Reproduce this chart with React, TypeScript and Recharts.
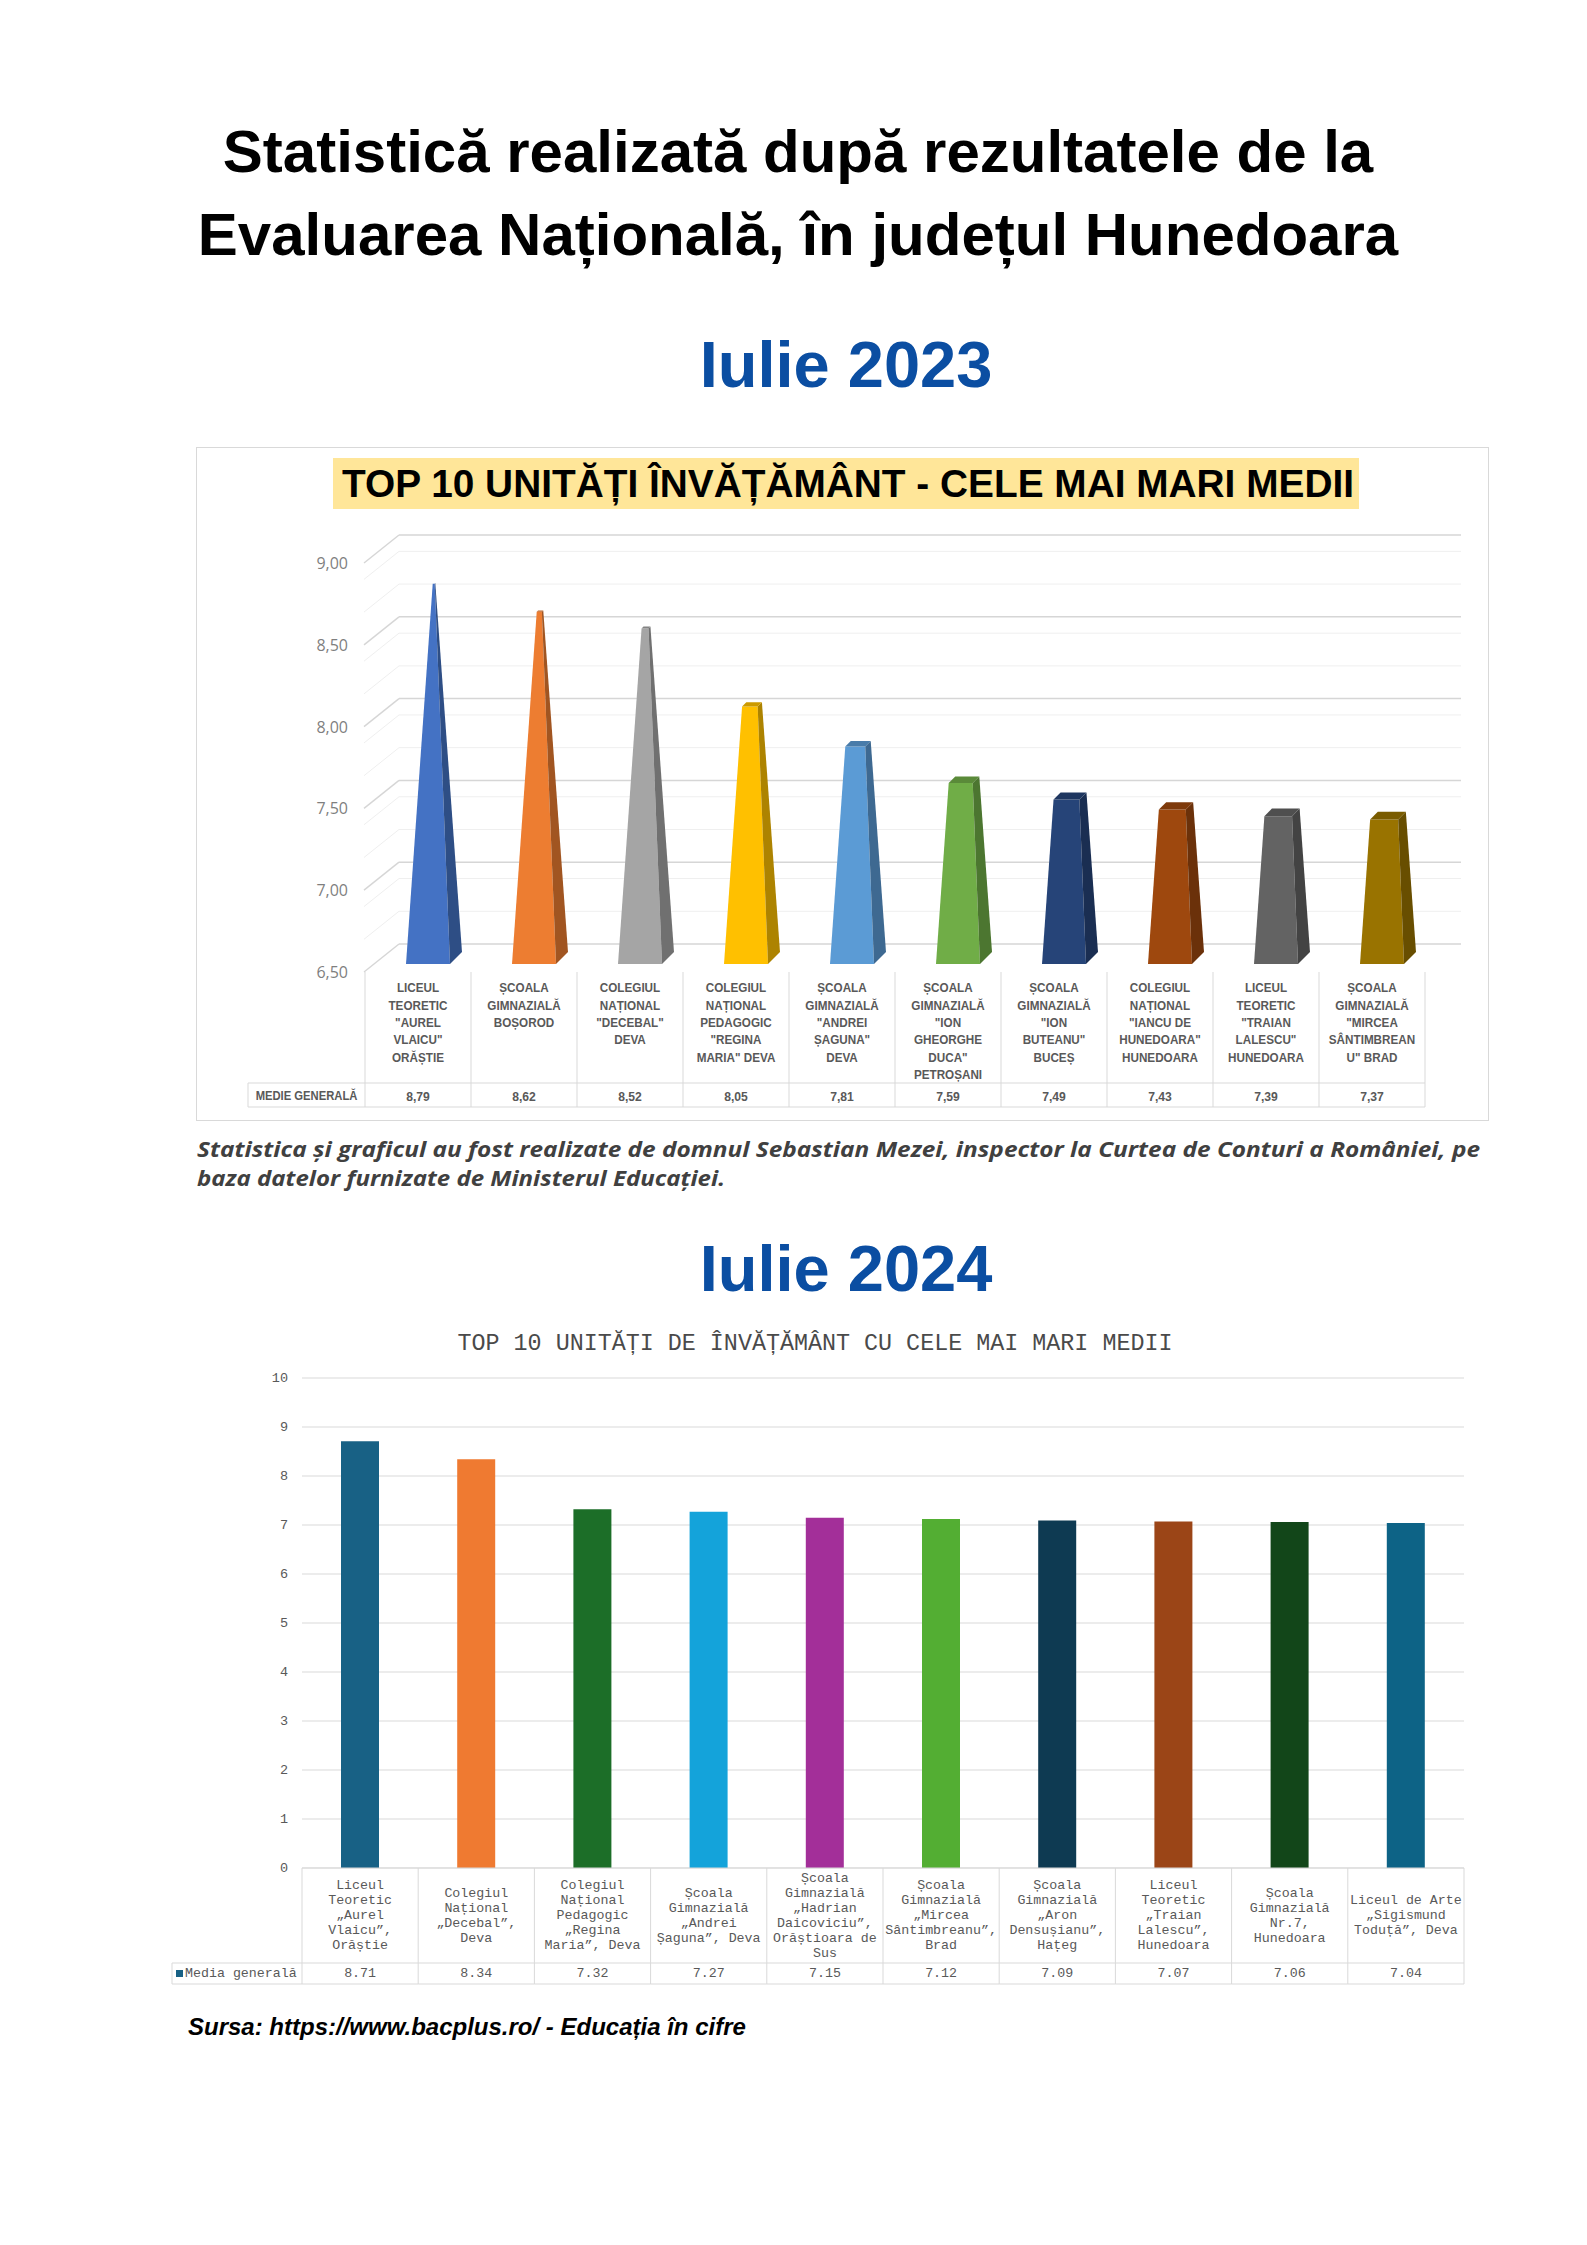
import React from 'react';
import { BarChart, Bar, XAxis, YAxis, CartesianGrid, Cell } from 'recharts';

// Iulie 2023 – top 10 (Excel 3D pyramid chart)
const schools2023 = [
  'LICEUL\nTEORETIC\n"AUREL\nVLAICU"\nORĂȘTIE',
  'ȘCOALA\nGIMNAZIALĂ\nBOȘOROD',
  'COLEGIUL\nNAȚIONAL\n"DECEBAL"\nDEVA',
  'COLEGIUL\nNAȚIONAL\nPEDAGOGIC\n"REGINA\nMARIA" DEVA',
  'ȘCOALA\nGIMNAZIALĂ\n"ANDREI\nȘAGUNA"\nDEVA',
  'ȘCOALA\nGIMNAZIALĂ\n"ION\nGHEORGHE\nDUCA"\nPETROȘANI',
  'ȘCOALA\nGIMNAZIALĂ\n"ION\nBUTEANU"\nBUCEȘ',
  'COLEGIUL\nNAȚIONAL\n"IANCU DE\nHUNEDOARA"\nHUNEDOARA',
  'LICEUL\nTEORETIC\n"TRAIAN\nLALESCU"\nHUNEDOARA',
  'ȘCOALA\nGIMNAZIALĂ\n"MIRCEA\nSÂNTIMBREAN\nU" BRAD',
];
const medii2023 = [8.79, 8.62, 8.52, 8.05, 7.81, 7.59, 7.49, 7.43, 7.39, 7.37];
const ticks2023 = [6.5, 7, 7.5, 8, 8.5, 9];
const minor2023 = [6.6, 6.7, 6.8, 6.9, 7.1, 7.2, 7.3, 7.4, 7.6, 7.7, 7.8, 7.9, 8.1, 8.2, 8.3, 8.4, 8.6, 8.7, 8.8, 8.9];

// Iulie 2024 – top 10
const schools2024 = [
  'Liceul\nTeoretic\n„Aurel\nVlaicu”,\nOrăștie',
  'Colegiul\nNațional\n„Decebal”,\nDeva',
  'Colegiul\nNațional\nPedagogic\n„Regina\nMaria”, Deva',
  'Școala\nGimnazială\n„Andrei\nȘaguna”, Deva',
  'Școala\nGimnazială\n„Hadrian\nDaicoviciu”,\nOrăștioara de\nSus',
  'Școala\nGimnazială\n„Mircea\nSântimbreanu”,\nBrad',
  'Școala\nGimnazială\n„Aron\nDensușianu”,\nHațeg',
  'Liceul\nTeoretic\n„Traian\nLalescu”,\nHunedoara',
  'Școala\nGimnazială\nNr.7,\nHunedoara',
  'Liceul de Arte\n„Sigismund\nToduță”, Deva',
];
const medii2024 = [8.71, 8.34, 7.32, 7.27, 7.15, 7.12, 7.09, 7.07, 7.06, 7.04];
const ticks2024 = [0, 1, 2, 3, 4, 5, 6, 7, 8, 9, 10];

const colors2023 = ['#4472c4', '#ed7d31', '#a5a5a5', '#ffc000', '#5b9bd5', '#70ad47', '#264478', '#9e480e', '#636363', '#997300'];
const colors2024 = ['#186185', '#ef7a31', '#1c6e28', '#14a3da', '#a32f99', '#53ae33', '#0e3a52', '#9b4517', '#124619', '#0d6386'];

const rows2023 = schools2023.map((name, i) => ({ name, value: medii2023[i] }));
const rows2024 = schools2024.map((name, i) => ({ name, value: medii2024[i] }));

const BASE = 6.5;
const APEX = 8.9; // where a full pyramid would end
const COL1 = 106;
const COL2 = 116.2;
const TABLE_LINE = '#d9d9d9';

const shade = (hex: string, f: number) => {
  const n = parseInt(hex.slice(1), 16);
  const r = Math.round(((n >> 16) & 255) * f);
  const g = Math.round(((n >> 8) & 255) * f);
  const b = Math.round((n & 255) * f);
  return `rgb(${r},${g},${b})`;
};

const pts = (list: number[][]) => list.map((p) => p.join(',')).join(' ');

// 3D pyramid truncated at the value
const Pyramid = (props: any) => {
  const { x, y, width, height, index, payload } = props;
  if (!height || height <= 0) return null;
  const color = colors2023[index];
  const pxPerUnit = height / (payload.value - BASE);
  const full = (APEX - BASE) * pxPerUnit;
  const s = Math.max(0, 1 - height / full);
  const cx = x + width / 2 + 16;
  const yb = y + height;
  const hw = width / 2;
  const d = 6;
  const FLb = [cx - hw - d, yb + d];
  const FRb = [cx + hw - d, yb + d];
  const BRb = [cx + hw + d, yb - d];
  const FLt = [cx - s * (hw + d), y + s * d];
  const FRt = [cx + s * (hw - d), y + s * d];
  const BRt = [cx + s * (hw + d), y - s * d];
  const BLt = [cx - s * (hw - d), y - s * d];
  return (
    <g>
      <polygon points={pts([FLb, FRb, FRt, FLt])} fill={color} />
      <polygon points={pts([FRb, BRb, BRt, FRt])} fill={shade(color, 0.68)} />
      {s > 0.05 && <polygon points={pts([FLt, FRt, BRt, BLt])} fill={shade(color, 0.8)} />}
    </g>
  );
};

const wallLine = (color: string, sw: number) => (p: any) => {
  const { x1, x2, y1 } = p;
  return (
    <g key={p.key}>
      <line x1={x1 - 1} y1={y1 + 14} x2={x1 + 34} y2={y1 - 14} stroke={color} strokeWidth={sw} />
      <line x1={x1 + 34} y1={y1 - 14} x2={x2 + 36} y2={y1 - 14} stroke={color} strokeWidth={sw} />
    </g>
  );
};

const Narrow = ({ x, y, children, size = 13, fill = '#595959' }: any) => (
  <text
    transform={`translate(${x},${y}) scale(0.9,1)`}
    textAnchor="middle"
    dominantBaseline="central"
    fontFamily="'Liberation Sans', Arial, sans-serif"
    fontWeight="bold"
    fontSize={size}
    fill={fill}
  >
    {children}
  </text>
);

const YTick2023 = (props: any) => {
  const { x, y, payload } = props;
  return (
    <text x={x} y={y + 14} textAnchor="end" dominantBaseline="central" fontFamily="'Open Sans', sans-serif" fontSize={16} fill="#7f7f7f">
      {payload.value.toFixed(2).replace('.', ',')}
    </text>
  );
};

const XTick2023 = (props: any) => {
  const { x, y, payload, index } = props;
  const lines = String(payload.value).split('\n');
  const l = x - COL1 / 2;
  const r = x + COL1 / 2;
  return (
    <g>
      {index === 0 && (
        <g>
          <line x1={l - 117} y1={y + 125} x2={l} y2={y + 125} stroke={TABLE_LINE} />
          <line x1={l - 117} y1={y + 149} x2={l} y2={y + 149} stroke={TABLE_LINE} />
          <line x1={l - 117} y1={y + 125} x2={l - 117} y2={y + 149} stroke={TABLE_LINE} />
          <Narrow x={l - 58.5} y={y + 138} size={12.5}>MEDIE GENERALĂ</Narrow>
        </g>
      )}
      <line x1={l} y1={y + 14} x2={l} y2={y + 149} stroke={TABLE_LINE} />
      {index === schools2023.length - 1 && <line x1={r} y1={y + 14} x2={r} y2={y + 149} stroke={TABLE_LINE} />}
      <line x1={l} y1={y + 125} x2={r} y2={y + 125} stroke={TABLE_LINE} />
      <line x1={l} y1={y + 149} x2={r} y2={y + 149} stroke={TABLE_LINE} />
      {lines.map((t, i) => (
        <Narrow key={i} x={x} y={y + 30 + i * 17.4}>
          {t}
        </Narrow>
      ))}
      <Narrow x={x} y={y + 138} size={13.5}>
        {medii2023[index].toFixed(2).replace('.', ',')}
      </Narrow>
    </g>
  );
};

const MONO = "'Liberation Mono', 'DejaVu Sans Mono', monospace";

const YTick2024 = (props: any) => {
  const { x, y, payload } = props;
  return (
    <text x={x} y={y} textAnchor="end" dominantBaseline="central" fontFamily={MONO} fontSize={13.5} fill="#595959">
      {payload.value}
    </text>
  );
};

const XTick2024 = (props: any) => {
  const { x, y, payload, index } = props;
  const lines = String(payload.value).split('\n');
  const l = x - COL2 / 2;
  const r = x + COL2 / 2;
  const start = y + 47.5 - ((lines.length - 1) * 15) / 2;
  return (
    <g>
      {index === 0 && (
        <g>
          <line x1={12} y1={y + 95} x2={l} y2={y + 95} stroke={TABLE_LINE} />
          <line x1={12} y1={y + 116} x2={l} y2={y + 116} stroke={TABLE_LINE} />
          <line x1={12} y1={y + 95} x2={12} y2={y + 116} stroke={TABLE_LINE} />
          <rect x={16} y={y + 102} width={7} height={7} fill={colors2024[0]} />
          <text x={25} y={y + 105.5} dominantBaseline="central" fontFamily={MONO} fontSize={13.3} fill="#595959">
            Media generală
          </text>
        </g>
      )}
      <line x1={l} y1={y} x2={l} y2={y + 116} stroke={TABLE_LINE} />
      {index === schools2024.length - 1 && <line x1={r} y1={y} x2={r} y2={y + 116} stroke={TABLE_LINE} />}
      <line x1={l} y1={y + 95} x2={r} y2={y + 95} stroke={TABLE_LINE} />
      <line x1={l} y1={y + 116} x2={r} y2={y + 116} stroke={TABLE_LINE} />
      {lines.map((t, i) => (
        <text key={i} x={x} y={start + i * 15} textAnchor="middle" dominantBaseline="central" fontFamily={MONO} fontSize={13.3} fill="#595959">
          {t}
        </text>
      ))}
      <text x={x} y={y + 105.5} textAnchor="middle" dominantBaseline="central" fontFamily={MONO} fontSize={13.3} fill="#595959">
        {medii2024[index].toFixed(2)}
      </text>
    </g>
  );
};

const SANS = "'Liberation Sans', Arial, sans-serif";
const BLUE = '#0b4ea2';

export default function App() {
  return (
    <div style={{ position: 'absolute', left: 0, top: 0, width: 1587, height: 2245, background: '#fff', overflow: 'hidden' }}>
      <svg width={1587} height={2245} style={{ position: 'absolute', left: 0, top: 0 }}>
        <text x={798} y={172} textAnchor="middle" fontFamily={SANS} fontWeight="bold" fontSize={60} fill="#000">
          Statistică realizată după rezultatele de la
        </text>
        <text x={798} y={255} textAnchor="middle" fontFamily={SANS} fontWeight="bold" fontSize={60} fill="#000">
          Evaluarea Națională, în județul Hunedoara
        </text>
        <text x={846} y={387} textAnchor="middle" fontFamily={SANS} fontWeight="bold" fontSize={65} fill={BLUE}>
          Iulie 2023
        </text>
        <rect x={196.5} y={447.5} width={1292} height={673} fill="none" stroke="#d9d9d9" />
        <rect x={333} y={458} width={1026} height={51} fill="#ffe699" />
        <text x={848} y={497} textAnchor="middle" fontFamily={SANS} fontWeight="bold" fontSize={39} fill="#000" textLength={1012} lengthAdjust="spacingAndGlyphs">
          TOP 10 UNITĂȚI ÎNVĂȚĂMÂNT - CELE MAI MARI MEDII
        </text>
        <text x={197} y={1157} fontFamily="'Open Sans', sans-serif" fontStyle="italic" fontWeight="bold" fontSize={21} fill="#404040" textLength={1283} lengthAdjust="spacingAndGlyphs">
          Statistica și graficul au fost realizate de domnul Sebastian Mezei, inspector la Curtea de Conturi a României, pe
        </text>
        <text x={197} y={1186} fontFamily="'Open Sans', sans-serif" fontStyle="italic" fontWeight="bold" fontSize={21} fill="#404040" textLength={528} lengthAdjust="spacingAndGlyphs">
          baza datelor furnizate de Ministerul Educației.
        </text>
        <text x={846} y={1291} textAnchor="middle" fontFamily={SANS} fontWeight="bold" fontSize={65} fill={BLUE}>
          Iulie 2024
        </text>
        <text x={815} y={1350} textAnchor="middle" fontFamily={MONO} fontSize={24} fill="#4a4a4a" textLength={715} lengthAdjust="spacingAndGlyphs">
          TOP 10 UNITĂȚI DE ÎNVĂȚĂMÂNT CU CELE MAI MARI MEDII
        </text>
        <text x={188} y={2035} fontFamily={SANS} fontStyle="italic" fontWeight="bold" fontSize={24} fill="#000">
          Sursa: https://www.bacplus.ro/ - Educația în cifre
        </text>
      </svg>

      <div style={{ position: 'absolute', left: 196, top: 447 }}>
        <BarChart width={1293} height={674} data={rows2023} margin={{ top: 102, right: 64, bottom: 13, left: 29 }} barSize={44}>
          <CartesianGrid vertical={false} horizontalValues={minor2023} horizontal={wallLine('#efefef', 1)} />
          <CartesianGrid vertical={false} horizontalValues={ticks2023} horizontal={wallLine('#d6d6d6', 1.5)} />
          <XAxis dataKey="name" interval={0} axisLine={false} tickLine={false} tickSize={0} tickMargin={0} height={150} tick={<XTick2023 />} />
          <YAxis domain={[6.5, 9]} ticks={ticks2023} width={140} axisLine={false} tickLine={false} tickSize={0} tickMargin={17} tick={<YTick2023 />} />
          <Bar dataKey="value" isAnimationActive={false} shape={(p: any) => <Pyramid {...p} />} />
        </BarChart>
      </div>

      <div style={{ position: 'absolute', left: 160, top: 1320 }}>
        <BarChart width={1340} height={680} data={rows2024} margin={{ top: 58, right: 36, bottom: 2, left: 2 }} barSize={38}>
          <CartesianGrid vertical={false} stroke="#d9d9d9" />
          <XAxis dataKey="name" interval={0} axisLine={{ stroke: '#d9d9d9' }} tickLine={false} tickSize={0} tickMargin={0} height={130} tick={<XTick2024 />} />
          <YAxis domain={[0, 10]} ticks={ticks2024} width={140} axisLine={false} tickLine={false} tickSize={0} tickMargin={14} tick={<YTick2024 />} />
          <Bar dataKey="value" isAnimationActive={false}>
            {rows2024.map((r, i) => (
              <Cell key={r.name} fill={colors2024[i]} />
            ))}
          </Bar>
        </BarChart>
      </div>
    </div>
  );
}
